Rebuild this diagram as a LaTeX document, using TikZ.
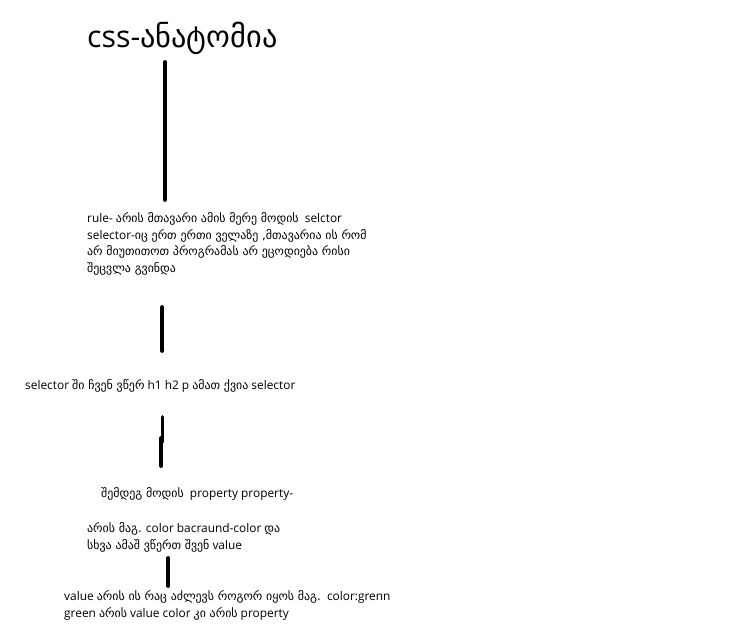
\documentclass[tikz,border=0pt]{standalone}
\usepackage{fontspec}
\setmainfont{Open Sans}
\newfontfamily\geo{DejaVu Sans}
\begin{document}
\begin{tikzpicture}[x=1pt,y=-1pt,
  body/.style={anchor=base west,inner sep=0pt,font=\fontsize{11.9}{13}\selectfont},
  ttl/.style={anchor=base west,inner sep=0pt,font=\fontsize{30.3}{32}\selectfont},
  bar/.style={line width=3.8pt,line cap=round}]
\useasboundingbox (0,0) rectangle (748,637);
\node[ttl] (title) at (87,47) {css-{\geo ანატომია}};
\node[body] (r1) at (87,222.5) {rule- {\geo არის მთავარი ამის მერე მოდის}\ \ selctor};
\node[body] (r2) at (87,239) {selector-{\geo იც ერთ ერთი ველაზე ,მთავარია ის რომ}};
\node[body] (r3) at (87,255.5) {\geo არ მიუთითოთ პროგრამას არ ეცოდიება რისი};
\node[body] (r4) at (87,272) {\geo შეცვლა გვინდა};
\node[body] (s1) at (25,389.5) {selector {\geo ში ჩვენ ვწერ} h1 h2 p {\geo ამათ ქვია} selector};
\node[body] (p1) at (101,497.5) {{\geo შემდეგ მოდის}\ \ property property-};
\node[body] (p2) at (87,532.5) {{\geo არის მაგ.} color bacraund-color {\geo და}};
\node[body] (p3) at (87,549.5) {{\geo სხვა ამაშ ვწერთ შვენ} value};
\node[body] (v1) at (64,600.5) {value {\geo არის ის რაც აძლევს როგორ იყოს მაგ.}\ \ color:grenn};
\node[body] (v2) at (64,617) {green {\geo არის} value color {\geo კი არის} property};
\coordinate (a1) at (165,62);
\coordinate (a2) at (165,200);
\coordinate (b1) at (162.3,307);
\coordinate (b2) at (162.3,351);
\coordinate (c1) at (162.5,417);
\coordinate (c2) at (162.5,442);
\coordinate (c3) at (161.3,438);
\coordinate (c4) at (161.3,466);
\coordinate (d1) at (168.3,558);
\coordinate (d2) at (168.3,586);
\draw[bar] (a1) -- (a2);
\draw[bar] (b1) -- (b2);
\draw[bar] (c1) -- (c2);
\draw[bar] (c3) -- (c4);
\draw[bar] (d1) -- (d2);
\end{tikzpicture}
\end{document}
